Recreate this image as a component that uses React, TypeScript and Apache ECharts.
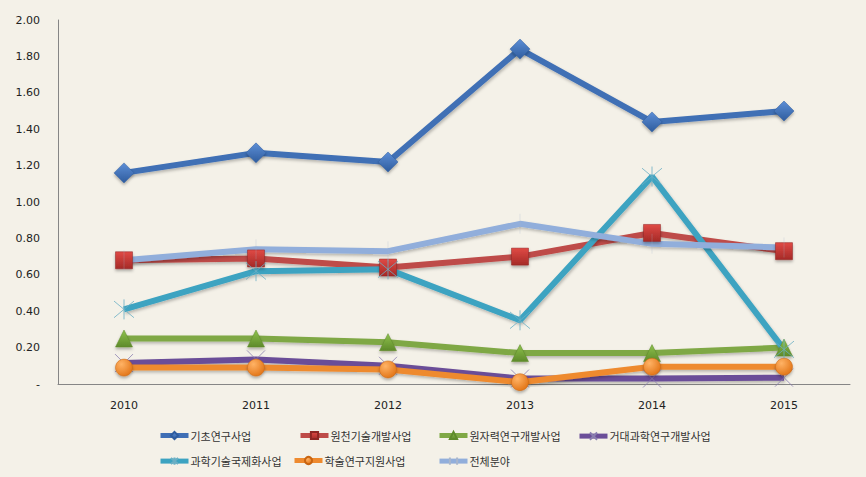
import React, { useEffect, useRef } from "react";
import * as echarts from "echarts";

const years = ["2010", "2011", "2012", "2013", "2014", "2015"];
const basicResearch = [1.16, 1.27, 1.22, 1.84, 1.44, 1.5];
const sourceTech = [0.68, 0.69, 0.64, 0.7, 0.83, 0.73];
const nuclear = [0.25, 0.25, 0.23, 0.17, 0.17, 0.2];
const bigScience = [0.115, 0.135, 0.1, 0.03, 0.03, 0.035];
const intlScience = [0.41, 0.62, 0.63, 0.35, 1.14, 0.19];
const academic = [0.09, 0.09, 0.08, 0.01, 0.095, 0.095];
const allFields = [0.68, 0.74, 0.73, 0.88, 0.77, 0.75];

const names = [
  "기초연구사업",
  "원천기술개발사업",
  "원자력연구개발사업",
  "거대과학연구개발사업",
  "과학기술국제화사업",
  "학술연구지원사업",
  "전체분야",
];

const FONT_NUM = "DejaVu Sans";
const FONT_KR = "Noto Sans CJK KR";

const grad = (light: string, dark: string) =>
  new echarts.graphic.LinearGradient(0, 0, 0, 1, [
    { offset: 0, color: light },
    { offset: 1, color: dark },
  ]);

const radial = (light: string, dark: string) =>
  new echarts.graphic.RadialGradient(0.35, 0.3, 0.8, [
    { offset: 0, color: light },
    { offset: 1, color: dark },
  ]);

const XMARK = "path://M-10,-10L10,10M-10,10L10,-10";
const STAR = "path://M0,-12L0,12M-10,-10L10,10M-10,10L10,-10";
const VBAR = "path://M0,-10L0,10M-0.3,-10L-0.3,10";

export default function App() {
  const ref = useRef<HTMLDivElement>(null);
  useEffect(() => {
    if (!ref.current) return;
    const chart = echarts.init(ref.current, undefined, { renderer: "svg" });
    const lineShadow = {
      shadowColor: "rgba(0,0,0,0.25)",
      shadowBlur: 3,
      shadowOffsetX: 1,
      shadowOffsetY: 2,
    };
    const mk = (
      name: string,
      data: number[],
      color: string,
      symbol: string,
      symbolSize: number | number[],
      fill: any,
      border: string,
      borderWidth: number
    ) => ({
      name,
      type: "line",
      data,
      symbol,
      symbolSize,
      lineStyle: { color, width: 6, ...lineShadow },
      itemStyle: {
        color: fill,
        borderColor: border,
        borderWidth,
        shadowColor: "rgba(0,0,0,0.3)",
        shadowBlur: 3,
        shadowOffsetY: 2,
      },
      emphasis: { disabled: true },
    });

    const series = [
      mk(names[0], basicResearch, "#3F6FB5", "diamond", 20, grad("#5C8ED6", "#2F5C9E"), "#2F5C9E", 0.5),
      mk(names[1], sourceTech, "#BE4B48", "rect", 17, grad("#E04A45", "#A52A27"), "#8E2522", 0.5),
      mk(names[2], nuclear, "#7FA845", "triangle", 17, grad("#8FC24E", "#5E8A2A"), "#5E8A2A", 0.5),
      {
        ...mk(names[3], bigScience, "#6B4E98", XMARK, 18, "none", "#8A7FB0", 1),
        itemStyle: { color: "none", borderColor: "#8A7FB0", borderWidth: 0.8 },
      },
      {
        ...mk(names[4], intlScience, "#3CA3C1", STAR, 20, "none", "#6AAFC4", 0.8),
        itemStyle: { color: "none", borderColor: "#6AAFC4", borderWidth: 0.8 },
      },
      mk(names[5], academic, "#EE8A2F", "circle", 17, radial("#FFB366", "#E07010"), "#C86410", 0.5),
      {
        ...mk(names[6], allFields, "#91AEDB", VBAR, [1, 20], "none", "#A8B6CC", 0.6),
        itemStyle: { color: "none", borderColor: "#A8B6CC", borderWidth: 0.6 },
      },
    ];

    const legendPos = [
      { left: 158, top: 430 },
      { left: 298, top: 430 },
      { left: 437, top: 430 },
      { left: 577, top: 430 },
      { left: 158, top: 455 },
      { left: 292, top: 455 },
      { left: 437, top: 455 },
    ];

    const legend = names.map((n, i) => ({
      data: [n],
      left: legendPos[i].left,
      top: legendPos[i].top,
      orient: "horizontal",
      itemWidth: 28,
      itemHeight: 9,
      itemGap: 0,
      padding: 0,
      selectedMode: false,
      lineStyle: { width: 5, shadowBlur: 0 },
      textStyle: { fontFamily: FONT_KR, fontSize: 11, color: "#333", padding: [0, 0, 0, -3] },
    }));

    chart.setOption({
      animation: false,
      backgroundColor: "#F4F1E8",
      grid: { left: 58, right: 16, top: 20, bottom: 93, containLabel: false },
      legend,
      xAxis: {
        type: "category",
        data: years,
        boundaryGap: true,
        axisLine: { lineStyle: { color: "#868686", width: 1 } },
        axisTick: { show: false },
        axisLabel: { margin: 16, color: "#222", fontFamily: FONT_NUM, fontSize: 11 },
        splitLine: { show: false },
      },
      yAxis: {
        type: "value",
        min: 0,
        max: 2,
        interval: 0.2,
        axisLine: { show: true, lineStyle: { color: "#868686", width: 1 } },
        axisTick: { show: false },
        splitLine: { show: false },
        axisLabel: {
          margin: 18,
          color: "#222",
          fontFamily: FONT_NUM,
          fontSize: 11,
          formatter: (v: number) => (v === 0 ? "-" : v.toFixed(2)),
        },
      },
      series,
    });
    return () => chart.dispose();
  }, []);
  return (
    <div
      ref={ref}
      style={{ position: "fixed", left: 0, top: 0, width: 866, height: 477 }}
    />
  );
}
